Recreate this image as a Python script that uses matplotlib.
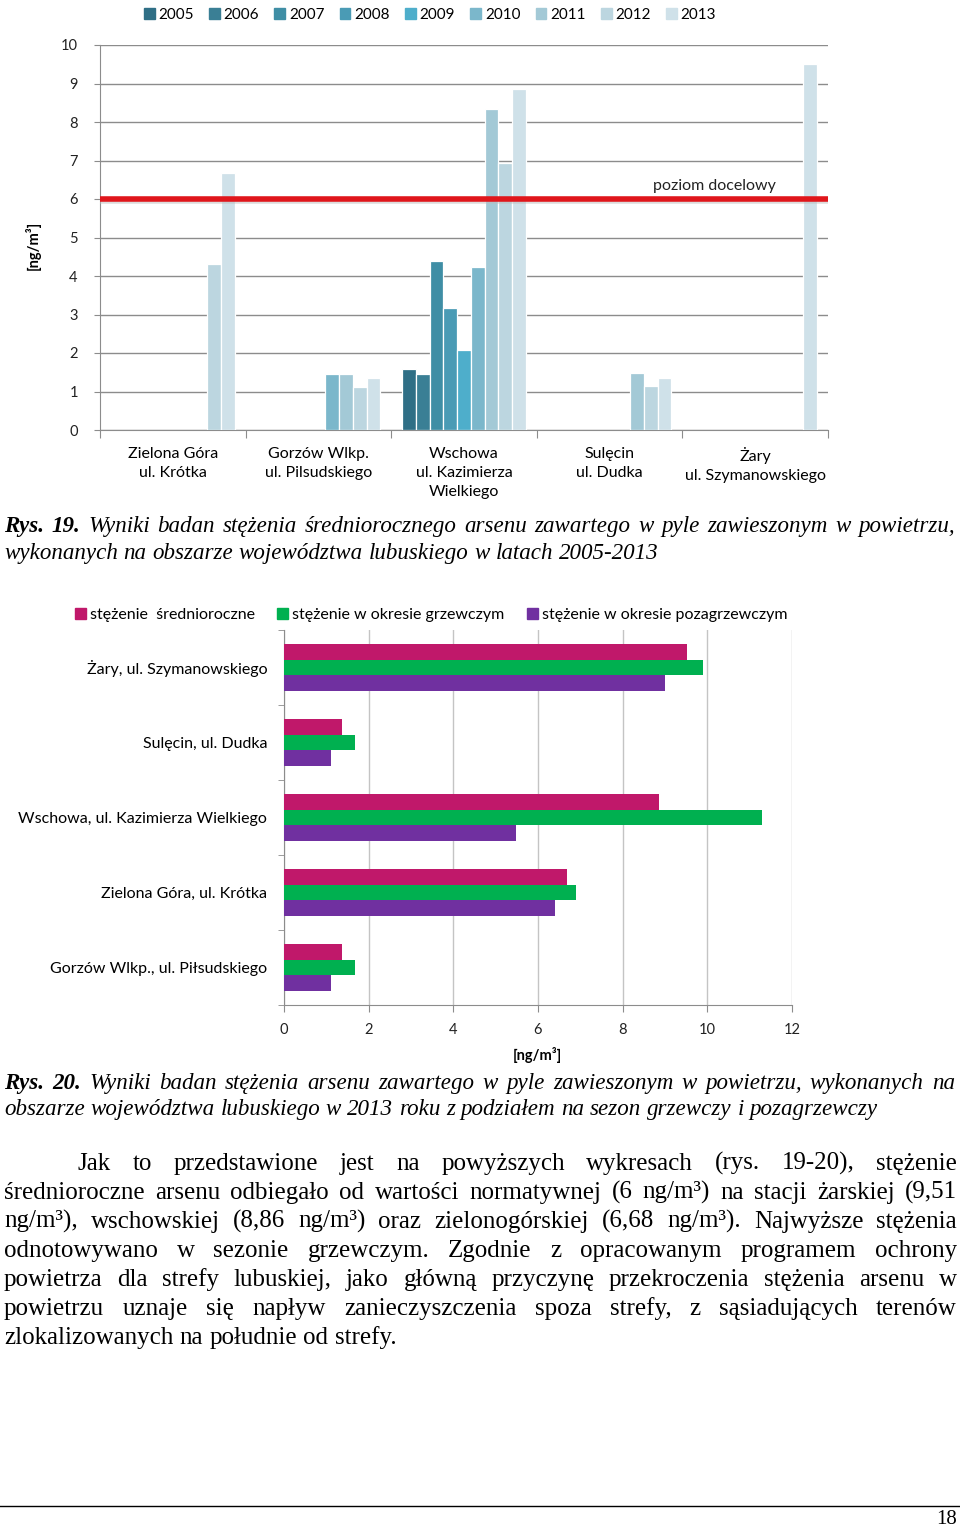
import matplotlib
matplotlib.use('Agg')
import matplotlib.pyplot as plt
from matplotlib.patches import Patch
import numpy as np

nan = np.nan

# --- Rys. 19 data ---
years = ['2005', '2006', '2007', '2008', '2009', '2010', '2011', '2012', '2013']
year_colors = ['#2f6f86', '#3a7f95', '#3f8ea5', '#4a9bb5', '#4eaecb',
               '#7bb7cb', '#a3c9d6', '#bcd6e0', '#cfe1e9']
stations_top = ['Zielona Góra\nul. Krótka', 'Gorzów Wlkp.\nul. Pilsudskiego',
                'Wschowa\nul. Kazimierza\nWielkiego', 'Sulęcin\nul. Dudka',
                'Żary\nul. Szymanowskiego']
zielona_gora = [nan, nan, nan, nan, nan, nan, nan, 4.30, 6.68]
gorzow = [nan, nan, nan, nan, nan, 1.46, 1.46, 1.12, 1.36]
wschowa = [1.58, 1.46, 4.39, 3.18, 2.07, 4.23, 8.33, 6.93, 8.86]
sulecin = [nan, nan, nan, nan, nan, nan, 1.47, 1.14, 1.36]
zary = [nan, nan, nan, nan, nan, nan, nan, nan, 9.51]
target_level = 6

# --- Rys. 20 data ---
stations_bottom = ['Żary, ul. Szymanowskiego', 'Sulęcin, ul. Dudka',
                   'Wschowa, ul. Kazimierza Wielkiego', 'Zielona Góra, ul. Krótka',
                   'Gorzów Wlkp., ul. Piłsudskiego']
annual = [9.51, 1.38, 8.86, 6.68, 1.38]
heating = [9.90, 1.68, 11.29, 6.90, 1.68]
nonheating = [9.00, 1.11, 5.48, 6.40, 1.11]
series_names = ['stężenie  średnioroczne', 'stężenie w okresie grzewczym',
                'stężenie w okresie pozagrzewczym']
series_colors = ['#c0186a', '#00b050', '#7030a0']

W, H = 960, 1529
CH = ['Lato', 'DejaVu Sans']
SERIF = ['Liberation Serif', 'DejaVu Serif']

fig = plt.figure(figsize=(W / 100, H / 100), dpi=100)
fig.patch.set_facecolor('white')


def fx(x):
    return x / W


def fy(y):
    return 1 - y / H


def box(l, t, r, b):
    return [fx(l), fy(b), (r - l) / W, (b - t) / H]


grid_c = '#8c8c8c'

# ---------------- top chart ----------------
ax1 = fig.add_axes(box(100, 45, 828, 430))
table = np.array([zielona_gora, gorzow, wschowa, sulecin, zary])
ncat = len(stations_top)
group = 0.85
bw = group / len(years)
centers = np.arange(ncat) + 0.5
for i, yr in enumerate(years):
    xs = centers - group / 2 + bw * (i + 0.5)
    ax1.bar(xs, table[:, i], width=bw, color=year_colors[i], edgecolor='white',
            linewidth=0.9, zorder=3, label=yr)
ax1.axhline(target_level - 0.06, color='#bbbbbb', lw=4, alpha=0.5, zorder=4)
ax1.axhline(target_level, color='#e0161b', lw=4, zorder=5)
ax1.text(4.22, 6.34, 'poziom docelowy', fontsize=11.5, family=CH, color='#222222',
         ha='center', va='center', zorder=6)
ax1.set_xlim(0, ncat)
ax1.set_ylim(0, 10)
ax1.set_yticks(range(0, 11))
ax1.set_yticklabels([str(v) for v in range(0, 11)], family=CH, fontsize=10.5)
ax1.set_xticks(range(0, ncat + 1))
ax1.set_xticklabels([])
ax1.set_xticks(centers, minor=True)
ax1.set_xticklabels(stations_top, minor=True, family=CH, fontsize=11.5)
for lab in ax1.get_xticklabels(minor=True):
    lab.set_linespacing(1.45)
ax1.tick_params(axis='x', which='major', length=6, color=grid_c)
ax1.tick_params(axis='x', which='minor', length=0, pad=12)
ax1.tick_params(axis='y', length=4, color=grid_c, pad=12, labelcolor='#222222')
ax1.yaxis.grid(True, color=grid_c, lw=1, zorder=0)
ax1.set_axisbelow(True)
for s in ['top', 'right']:
    ax1.spines[s].set_visible(False)
for s in ['left', 'bottom']:
    ax1.spines[s].set_color(grid_c)
fig.text(fx(33), fy(245), '[ng/m³]', rotation=90, fontsize=10.5, family=CH,
         fontweight='bold', ha='center', va='center')
handles = [Patch(color=c) for c in year_colors]
fig.legend(handles, years, ncol=9, loc='center', bbox_to_anchor=(fx(430), fy(15)),
           frameon=False, handlelength=0.7, handleheight=0.7,
           handletextpad=0.25, columnspacing=1.0, borderaxespad=0,
           prop={'family': CH, 'size': 11})

# ---------------- bottom chart ----------------
ax2 = fig.add_axes(box(284, 630, 792, 1005))
nb = len(stations_bottom)
ypos = np.arange(nb)[::-1]
bh = 0.213
for vals, col, off in zip([annual, heating, nonheating], series_colors, [bh, 0, -bh]):
    ax2.barh(ypos + off, vals, height=bh, color=col, zorder=3)
ax2.set_xlim(0, 12)
ax2.set_ylim(-0.5, nb - 0.5)
ax2.set_xticks(range(0, 13, 2))
ax2.set_xticklabels([str(v) for v in range(0, 13, 2)], family=CH, fontsize=10.5)
ax2.set_yticks(ypos)
ax2.set_yticklabels(stations_bottom, family=CH, fontsize=11.5)
ax2.set_yticks(np.arange(nb + 1) - 0.5, minor=True)
ax2.tick_params(axis='y', which='major', length=0, pad=12)
ax2.tick_params(axis='y', which='minor', length=4, color=grid_c)
ax2.tick_params(axis='x', length=5, color=grid_c, pad=8, labelcolor='#222222')
ax2.xaxis.grid(True, color='#c4c4c4', lw=1, zorder=0)
ax2.set_axisbelow(True)
for s in ['top', 'right']:
    ax2.spines[s].set_visible(False)
for s in ['left', 'bottom']:
    ax2.spines[s].set_color(grid_c)
fig.text(fx(537), fy(1055), '[ng/m³]', fontsize=10.5, family=CH, fontweight='bold',
         ha='center', va='center')
handles2 = [Patch(color=c) for c in series_colors]
fig.legend(handles2, series_names, ncol=3, loc='center', bbox_to_anchor=(fx(431), fy(615)),
           frameon=False, handlelength=0.7, handleheight=0.7, handletextpad=0.25,
           columnspacing=1.4, borderaxespad=0, prop={'family': CH, 'size': 11.5})

# ---------------- text blocks ----------------
renderer = fig.canvas.get_renderer()


def put_line(words, x0, x1, base, size, justify, styles=None):
    objs = []
    for k, w in enumerate(words):
        st = styles[k] if styles else ('normal', 'normal')
        t = fig.text(fx(x0), fy(base), w, fontsize=size, family=SERIF,
                     fontstyle=st[0], fontweight=st[1], ha='left', va='baseline')
        objs.append(t)
    widths = [t.get_window_extent(renderer).width for t in objs]
    if justify and len(words) > 1:
        gap = (x1 - x0 - sum(widths)) / (len(words) - 1)
    else:
        gap = size * 100 / 72 * 0.25
    x = x0
    for t, wd in zip(objs, widths):
        t.set_position((fx(x), fy(base)))
        x += wd + gap


def caption(lines, base0, step, size):
    for j, line in enumerate(lines):
        words = line.split()
        styles = []
        for k in range(len(words)):
            if j == 0 and k < 2:
                styles.append(('italic', 'bold'))
            else:
                styles.append(('italic', 'normal'))
        put_line(words, 4, 955, base0 + j * step, size, j < len(lines) - 1, styles)


caption(['Rys. 19. Wyniki badan stężenia średniorocznego arsenu zawartego w pyle zawieszonym w powietrzu,',
         'wykonanych na obszarze województwa lubuskiego w latach 2005-2013'], 532, 27, 16.6)
caption(['Rys. 20. Wyniki badan stężenia arsenu zawartego w pyle zawieszonym w powietrzu, wykonanych na',
         'obszarze województwa lubuskiego w 2013 roku z podziałem na sezon grzewczy i pozagrzewczy'],
        1089, 26, 16.6)

para = ['Jak to przedstawione jest na powyższych wykresach (rys. 19-20), stężenie',
        'średnioroczne arsenu odbiegało od wartości normatywnej (6 ng/m³) na stacji żarskiej (9,51',
        'ng/m³), wschowskiej (8,86 ng/m³) oraz zielonogórskiej (6,68 ng/m³). Najwyższe stężenia',
        'odnotowywano w sezonie grzewczym. Zgodnie z opracowanym programem ochrony',
        'powietrza dla strefy lubuskiej, jako główną przyczynę przekroczenia stężenia arsenu w',
        'powietrzu uznaje się napływ zanieczyszczenia spoza strefy, z sąsiadujących terenów',
        'zlokalizowanych na południe od strefy.']
for j, line in enumerate(para):
    x0 = 78 if j == 0 else 4
    put_line(line.split(), x0, 957, 1170 + j * 29, 18, j < len(para) - 1)

fig.add_artist(plt.Line2D([0, 1], [fy(1506), fy(1506)], color='black', lw=1))
fig.text(fx(957), fy(1520), '18', fontsize=15, family=SERIF, ha='right', va='center')

fig.savefig('out.png', dpi=100, facecolor='white')
